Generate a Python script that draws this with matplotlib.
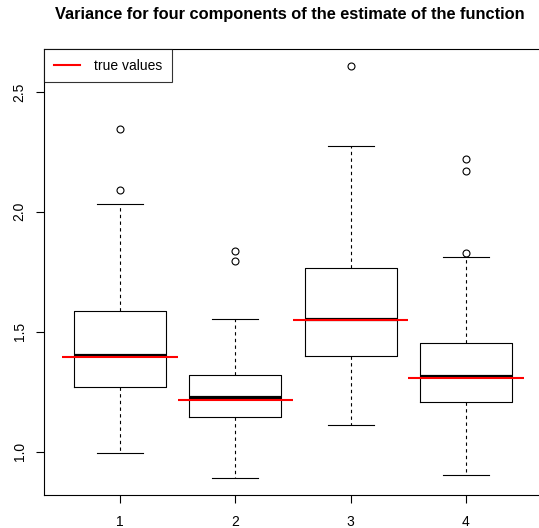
import numpy as np
import matplotlib
matplotlib.use("Agg")
import matplotlib.pyplot as plt
from matplotlib.lines import Line2D

plt.rcParams['font.family'] = ['Liberation Sans', 'DejaVu Sans']

# values
components = [1, 2, 3, 4]
q1 = [1.268, 1.146, 1.399, 1.208]
medians = [1.404, 1.226, 1.554, 1.314]
q3 = [1.587, 1.320, 1.764, 1.451]
whisk_lo = [0.992, 0.888, 1.110, 0.901]
whisk_hi = [2.033, 1.553, 2.274, 1.811]
outliers = [[2.346, 2.090], [1.835, 1.796], [2.610], [2.221, 2.171, 1.828]]
true_values = [1.393, 1.215, 1.550, 1.305]
yticks = [1.0, 1.5, 2.0, 2.5]

stats = []
for i in range(len(components)):
    stats.append(dict(med=medians[i], q1=q1[i], q3=q3[i],
                      whislo=whisk_lo[i], whishi=whisk_hi[i], fliers=outliers[i]))

fig = plt.figure(figsize=(5.39, 5.28), dpi=100)
ax = fig.add_axes([0.0816, 0.0625, 0.924, 0.8447])

ax.bxp(stats, positions=components, widths=0.8, showcaps=True,
       boxprops=dict(color='black', linewidth=0.8),
       whiskerprops=dict(color='black', linewidth=0.8, linestyle=(0, (3, 3))),
       capprops=dict(color='black', linewidth=0.8),
       medianprops=dict(color='black', linewidth=2.3, solid_capstyle='butt'),
       flierprops=dict(marker='o', markerfacecolor='none', markeredgecolor='black',
                       markersize=5, markeredgewidth=0.8),
       capwidths=0.4)

pos = np.array(components)
ax.hlines(true_values, pos - 0.5, pos + 0.5, colors='red', linewidth=1.5, zorder=5)

ax.set_xlim(0.34, 4.66)
ax.set_ylim(0.8186, 2.679)
ax.set_xticks(components)
ax.set_xticklabels([str(c) for c in components])
ax.set_yticks(yticks)
ax.set_yticklabels([f"{v:.1f}" for v in yticks], rotation=90, va='center')
ax.tick_params(axis='both', length=5.5, width=0.8, labelsize=10, direction='out')
ax.tick_params(axis='x', pad=9)
ax.tick_params(axis='y', pad=7)
for s in ax.spines.values():
    s.set_linewidth(0.8)

handle = Line2D([0], [0], color='red', linewidth=1.5)
leg = ax.legend([handle], ['true values'], loc='upper left', borderaxespad=0,
                fancybox=False, edgecolor='black', fontsize=10, handlelength=1.9,
                borderpad=0.7, handletextpad=1.0)
leg.get_frame().set_linewidth(0.8)

fig.text(0.538, 0.972, "Variance for four components of the estimate of the function",
         ha='center', va='center', fontsize=11.8, fontweight='bold')

fig.savefig("out.png", dpi=100)
